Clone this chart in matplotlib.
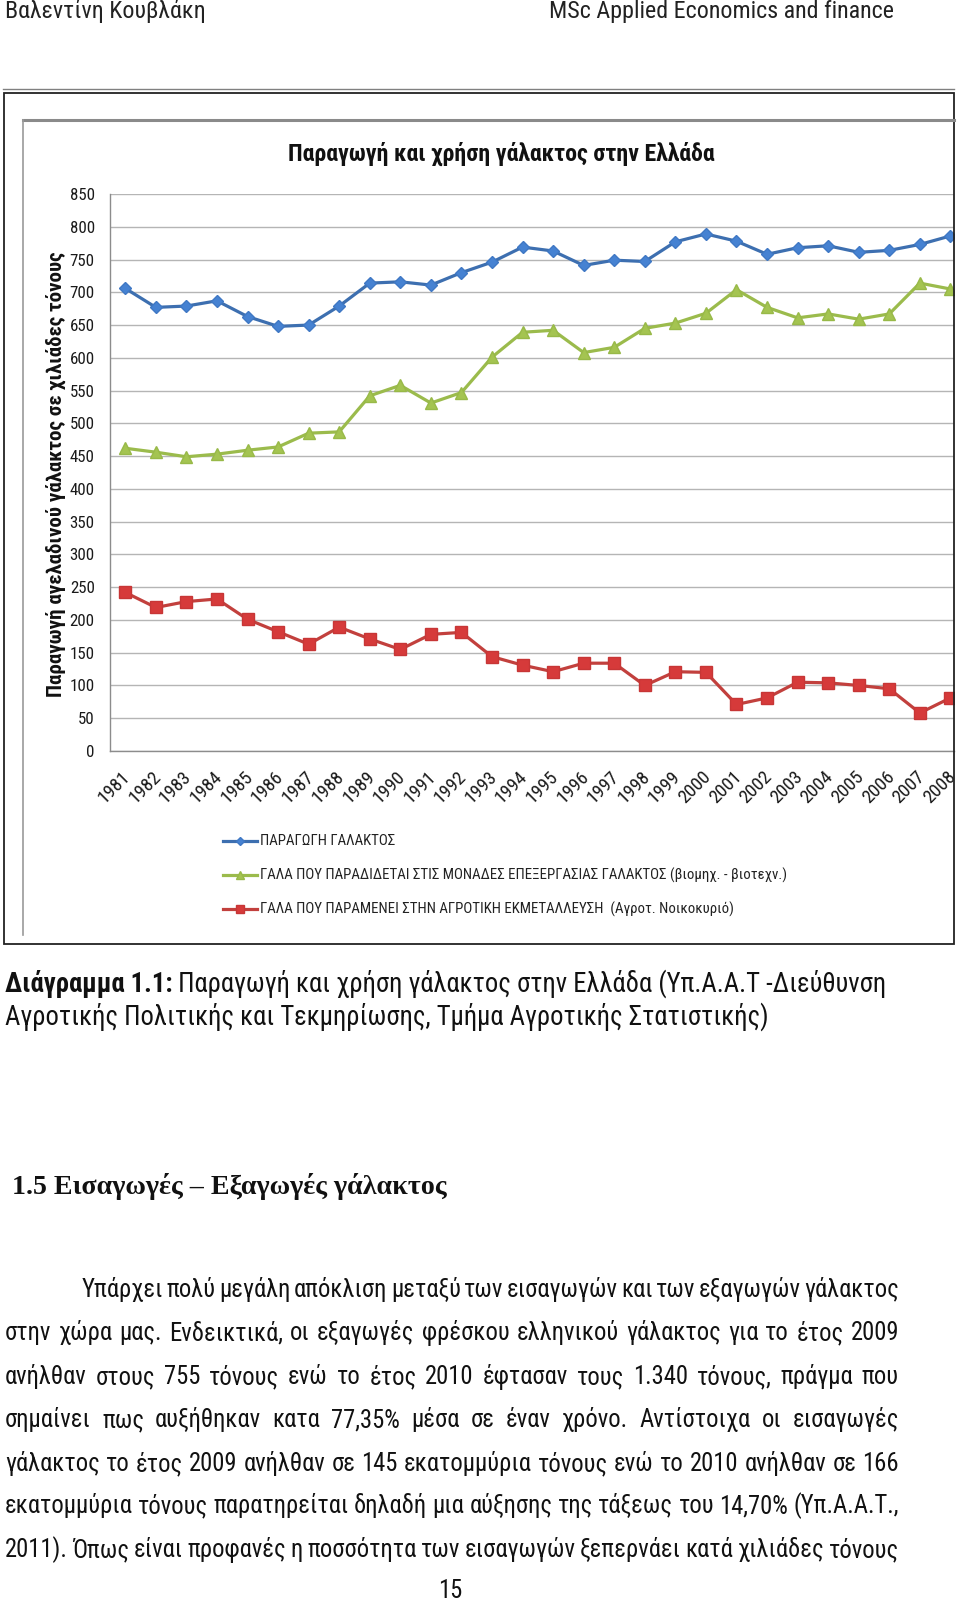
import matplotlib
matplotlib.use("Agg")
import matplotlib.pyplot as plt
from matplotlib import font_manager as fm
from matplotlib.lines import Line2D
from matplotlib.patches import Rectangle
from matplotlib.transforms import ScaledTranslation

# =====================
# data
# =====================
years = [str(y) for y in range(1981, 2009)]
production = [706, 677, 679, 687, 663, 648, 650, 679, 714, 716, 711, 730, 746, 769,
              763, 741, 749, 747, 777, 789, 778, 758, 768, 771, 761, 764, 773, 786]
delivered = [462, 456, 449, 453, 459, 464, 485, 487, 542, 558, 531, 547, 601, 639,
             642, 608, 616, 645, 653, 668, 704, 677, 661, 667, 659, 667, 714, 705]
on_farm = [242, 219, 228, 232, 201, 182, 163, 189, 171, 155, 178, 181, 144, 131,
           121, 134, 134, 100, 121, 120, 71, 81, 105, 104, 100, 95, 58, 81]
y_ticks = list(range(0, 851, 50))

series_labels = [
    "ΠΑΡΑΓΩΓΗ ΓΑΛΑΚΤΟΣ",
    "ΓΑΛΑ ΠΟΥ ΠΑΡΑΔΙΔΕΤΑΙ ΣΤΙΣ ΜΟΝΑΔΕΣ ΕΠΕΞΕΡΓΑΣΙΑΣ ΓΑΛΑΚΤΟΣ (βιομηχ. - βιοτεχν.)",
    "ΓΑΛΑ ΠΟΥ ΠΑΡΑΜΕΝΕΙ ΣΤΗΝ ΑΓΡΟΤΙΚΗ ΕΚΜΕΤΑΛΛΕΥΣΗ  (Αγροτ. Νοικοκυριό)",
]
chart_title = "Παραγωγή και χρήση γάλακτος στην Ελλάδα"
y_label = "Παραγωγή αγελαδινού γάλακτος σε χιλιάδες τόνους"

header_left = "Βαλεντίνη Κουβλάκη"
header_right = "MSc Applied Economics and finance"
caption_bold = "Διάγραμμα 1.1:"
caption_1 = " Παραγωγή και χρήση γάλακτος στην Ελλάδα (Υπ.Α.Α.Τ -Διεύθυνση"
caption_2 = "Αγροτικής Πολιτικής και Τεκμηρίωσης, Τμήμα Αγροτικής Στατιστικής)"
heading = "1.5 Εισαγωγές – Εξαγωγές γάλακτος"
body = [
    "Υπάρχει πολύ μεγάλη απόκλιση μεταξύ των εισαγωγών και των εξαγωγών γάλακτος",
    "στην χώρα μας. Ενδεικτικά, οι εξαγωγές φρέσκου ελληνικού γάλακτος για το έτος 2009",
    "ανήλθαν στους 755 τόνους ενώ το έτος 2010 έφτασαν τους 1.340 τόνους, πράγμα που",
    "σημαίνει πως αυξήθηκαν κατα 77,35% μέσα σε έναν χρόνο. Αντίστοιχα οι εισαγωγές",
    "γάλακτος το έτος 2009 ανήλθαν σε 145 εκατομμύρια τόνους ενώ το 2010 ανήλθαν σε 166",
    "εκατομμύρια τόνους παρατηρείται δηλαδή μια αύξησης της τάξεως του 14,70% (Υπ.Α.Α.Τ.,",
    "2011). Όπως είναι προφανές η ποσσότητα των εισαγωγών ξεπερνάει κατά χιλιάδες τόνους",
]
page_no = "15"


# =====================
# fonts: the scan uses a narrow (Calibri-like) face, so prefer a condensed one
# =====================
def has_font(name):
    try:
        fm.findfont(fm.FontProperties(family=name), fallback_to_default=False)
        return True
    except ValueError:
        return False


SANS, STRETCH = None, "normal"
if has_font("Liberation Sans Narrow"):
    SANS = "Liberation Sans Narrow"
else:
    cond = {f.name for f in fm.fontManager.ttflist
            if str(f.stretch) in ("condensed", "semi-condensed") or "ondensed" in f.fname}
    for fam in ["Roboto Condensed", "Open Sans Condensed", "Noto Sans", "DejaVu Sans", "Open Sans", "Roboto"]:
        if fam in cond:
            SANS, STRETCH = fam, "condensed"
            break
if SANS is None:
    SANS = next((f for f in ["Roboto", "Open Sans"] if has_font(f)), "DejaVu Sans")
SERIF = next((f for f in ["Liberation Serif", "DejaVu Serif"] if has_font(f)), "DejaVu Serif")
plt.rcParams["font.family"] = [SANS, "DejaVu Sans"]
plt.rcParams["font.stretch"] = STRETCH

# =====================
# page / pixel helpers
# =====================
W, H = 960, 1601
fig = plt.figure(figsize=(W / 100, H / 100), dpi=100)
fig.patch.set_facecolor("white")
r = fig.canvas.get_renderer()


def fx(x):
    return x / W


def fy(y):
    return 1 - y / H


def text_w(s, **kw):
    t = fig.text(0, 0, s, **kw)
    w = t.get_window_extent(renderer=r).width
    t.remove()
    return w


def fit_size(s, width, **kw):
    return 20 * width / text_w(s, fontsize=20, **kw)


def justify(line, left, right, y, size):
    words = line.split(" ")
    ws = [text_w(w, fontsize=size) for w in words]
    gap = (right - left - sum(ws)) / (len(words) - 1)
    x = left
    for w, wd in zip(words, ws):
        fig.text(fx(x), fy(y), w, fontsize=size, va="baseline", color="#111")
        x += wd + gap


# =====================
# header
# =====================
hs = fit_size(header_right, 345)
fig.text(fx(5), fy(18), header_left, fontsize=hs, va="baseline", color="#222")
fig.text(fx(894), fy(18), header_right, fontsize=hs, va="baseline", ha="right", color="#222")

# =====================
# frame around the chart
# =====================
tf = fig.transFigure
fig.add_artist(Line2D([fx(3), fx(954)], [fy(89), fy(89)], color="#808080", lw=1, transform=tf))
fig.add_artist(Rectangle((fx(3.5), fy(944)), fx(954) - fx(3.5), fy(93) - fy(944),
                         fill=False, ec="#222", lw=1.3, transform=tf))
fig.add_artist(Line2D([fx(23), fx(954)], [fy(120), fy(120)], color="#8a8a8a", lw=2.2, transform=tf))
fig.add_artist(Line2D([fx(23), fx(23)], [fy(120), fy(935)], color="#9a9a9a", lw=1.2, transform=tf))

# =====================
# chart
# =====================
STEP = 30.56  # px per category
ax = fig.add_axes([fx(110), fy(751), fx(954) - fx(110), fy(194) - fy(751)])
x = list(range(len(years)))

styles = [
    dict(color="#3d6fb0", marker="D", ms=6, mfc="#4682d2", mec="#3f78c4"),
    dict(color="#9bbb4c", marker="^", ms=8, mfc="#a4c451", mec="#98b948"),
    dict(color="#c2403d", marker="s", ms=8.5, mfc="#d63a3a", mec="#c73636"),
]
for vals, st in zip([production, delivered, on_farm], styles):
    ax.plot(x, vals, lw=2.3, mew=1, zorder=3, **st)

ax.set_ylim(0, 850)
ax.set_xlim(-0.5, (954 - 110) / STEP - 0.5)
ax.set_yticks(y_ticks)
ax.yaxis.grid(True, color="#b5b5b5", lw=1)
ax.set_axisbelow(True)
for s in ["top", "right"]:
    ax.spines[s].set_visible(False)
for s in ["left", "bottom"]:
    ax.spines[s].set_color("#8c8c8c")
    ax.spines[s].set_linewidth(1)
tick_size = fit_size("850", 25)
ax.tick_params(axis="y", length=0, pad=11, labelsize=tick_size, labelcolor="#1a1a1a")
ax.set_xticks(x)
ax.set_xticklabels(years, rotation=45, ha="right", va="top", rotation_mode="anchor",
                   fontsize=tick_size * 1.12, color="#1a1a1a")
ax.tick_params(axis="x", length=0, pad=12)
shift = ScaledTranslation(-4 / 100, 0, fig.dpi_scale_trans)
for lab in ax.get_xticklabels():
    lab.set_transform(lab.get_transform() + shift)

ts = fit_size(chart_title, 426, weight="bold")
fig.text(fx(501), fy(160.7), chart_title, fontsize=ts, weight="bold", ha="center", va="baseline", color="#111")

ys = fit_size(y_label, 447, weight="bold")
fig.text(fx(56), fy(474), y_label, fontsize=ys, weight="bold", rotation=90,
         ha="center", va="center", color="#111")

# legend
ls = fit_size(series_labels[1], 528)
for i, (lab, st) in enumerate(zip(series_labels, styles)):
    yy = fy([841, 875, 909][i])
    leg = dict(st)
    leg["ms"] = st["ms"] * 0.75
    fig.add_artist(Line2D([fx(223), fx(240), fx(257)], [yy, yy, yy], lw=2.3, markevery=[1],
                          transform=tf, **leg))
    fig.text(fx(260), yy, lab, fontsize=ls, va="center", color="#222")

# =====================
# caption, heading, body
# =====================
wb = text_w(caption_bold, fontsize=20, weight="bold")
wr = text_w(caption_1, fontsize=20)
cs = 20 * 883 / (wb + wr)
fig.text(fx(5), fy(992), caption_bold, fontsize=cs, weight="bold", va="baseline", color="#111")
fig.text(fx(5 + wb * cs / 20), fy(992), caption_1, fontsize=cs, va="baseline", color="#111")
fig.text(fx(5), fy(1025), caption_2, fontsize=cs, va="baseline", color="#111")

hs2 = fit_size(heading, 434, family=SERIF, weight="bold")
fig.text(fx(12), fy(1194), heading, fontsize=hs2, family=SERIF, weight="bold", va="baseline", color="#111")

bs = fit_size(body[4], 885)
baselines = [1297, 1340, 1384, 1427, 1471, 1513, 1557]
for i, (line, yb) in enumerate(zip(body, baselines)):
    justify(line, 82 if i == 0 else 5, 899, yb, bs)

fig.text(fx(450), fy(1598), page_no, fontsize=bs, ha="center", va="baseline", color="#111")

fig.savefig("out.png", dpi=100)
plt.close()
